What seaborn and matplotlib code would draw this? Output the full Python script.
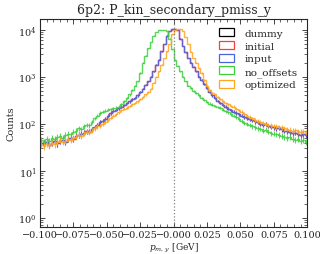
import numpy as np
import pandas as pd
import matplotlib
matplotlib.use('Agg')
import matplotlib.pyplot as plt
from matplotlib.patches import Patch
import seaborn as sns

# histogram settings: 100 bins between -0.1 and 0.1 GeV
x_lo, x_hi, n_bins = -0.1, 0.1, 100

samples = ['dummy', 'initial', 'input', 'no_offsets', 'optimized']
colors = {'dummy': 'black', 'initial': '#ff3b3b', 'input': '#4a64e0',
          'no_offsets': '#3fcf3f', 'optimized': '#ffa51f'}

input_counts = [
    40, 38, 42, 36, 40, 44, 39, 43, 46, 41,
    48, 50, 47, 55, 58, 62, 65, 70, 68, 78,
    85, 95, 108, 115, 125, 150, 170, 190, 200, 215,
    230, 250, 280, 300, 330, 360, 400, 480, 560, 680,
    800, 1000, 1300, 1800, 2300, 3500, 5000, 7500, 9500, 10200,
    10500, 9800, 6500, 4500, 3300, 2500, 2000, 1650, 1300, 1000,
    850, 700, 580, 480, 400, 350, 310, 280, 250, 230,
    210, 195, 180, 170, 160, 150, 140, 132, 125, 118,
    112, 108, 100, 95, 98, 90, 86, 84, 80, 82,
    76, 72, 70, 66, 64, 65, 61, 58, 60, 57]
initial_counts = list(input_counts)

no_offsets_counts = [
    45, 42, 48, 44, 50, 47, 52, 55, 51, 58,
    62, 60, 68, 72, 80, 78, 88, 95, 92, 110,
    130, 150, 170, 180, 190, 200, 205, 215, 220, 230,
    260, 300, 360, 420, 520, 650, 800, 1200, 2000, 2800,
    4000, 5500, 7500, 9000, 9800, 10000, 9900, 9500, 6500, 3800,
    2300, 1700, 1300, 1000, 800, 650, 580, 500, 450, 400,
    350, 320, 290, 270, 255, 240, 228, 220, 200, 185,
    175, 160, 150, 140, 125, 115, 105, 98, 95, 88,
    84, 80, 78, 72, 75, 68, 64, 62, 60, 58,
    55, 53, 50, 52, 48, 46, 47, 44, 45, 42]

optimized_counts = [
    36, 33, 38, 35, 40, 37, 42, 45, 41, 44,
    47, 45, 50, 52, 58, 56, 62, 68, 66, 72,
    80, 88, 90, 98, 108, 120, 135, 150, 160, 175,
    195, 210, 220, 240, 260, 280, 300, 340, 370, 420,
    480, 560, 750, 1000, 1300, 1800, 2500, 3500, 5000, 8000,
    10000, 10500, 10200, 9500, 7000, 5000, 3400, 2500, 2000, 1500,
    1200, 850, 650, 520, 460, 420, 380, 340, 300, 280,
    260, 240, 230, 210, 195, 180, 165, 150, 140, 130,
    122, 115, 108, 104, 100, 96, 92, 90, 88, 86,
    84, 80, 78, 75, 72, 74, 70, 68, 70, 66]

counts = {'initial': initial_counts, 'input': input_counts,
          'no_offsets': no_offsets_counts, 'optimized': optimized_counts}

edges = np.linspace(x_lo, x_hi, n_bins + 1)
centers = 0.5 * (edges[:-1] + edges[1:])

rows = []
for name in ['initial', 'input', 'no_offsets', 'optimized']:
    for c, n in zip(centers, counts[name]):
        rows.append([name, c, n])
df = pd.DataFrame(rows, columns=['sample', 'pmiss', 'counts'])

sns.set_style('ticks')
plt.rcParams['font.family'] = ['DejaVu Serif']
plt.rcParams['mathtext.fontset'] = 'dejavuserif'
plt.rcParams['xtick.direction'] = 'in'
plt.rcParams['ytick.direction'] = 'in'

fig = plt.figure(figsize=(3.2, 2.55), dpi=100)
ax = fig.add_axes([0.125, 0.106, 0.835, 0.816])

for name in ['initial', 'input', 'no_offsets', 'optimized']:
    sub = df[df['sample'] == name]
    sns.histplot(data=sub, x='pmiss', weights='counts', bins=list(edges), element='step',
                 fill=False, color=colors[name], lw=1.0, alpha=0.85, ax=ax)
    ax.errorbar(sub['pmiss'], sub['counts'], yerr=np.sqrt(sub['counts']), fmt='none',
                ecolor=colors[name], elinewidth=0.8, alpha=0.85)

ax.axvline(0, color='gray', ls=':', lw=0.9)
ax.set_yscale('log')
ax.set_xlim(x_lo, x_hi)
ax.set_ylim(0.64, 1.7e4)
ax.set_xticks(np.arange(-0.1, 0.1001, 0.025))
ax.set_xticklabels([f'{v:.3f}'.replace('-', '\u2212') for v in np.arange(-0.1, 0.1001, 0.025)])
ax.xaxis.set_minor_locator(matplotlib.ticker.MultipleLocator(0.005))
ax.tick_params(which='both', top=True, right=True, labelsize=7)
ax.tick_params(which='major', length=3.5, width=0.6, pad=2.5)
ax.tick_params(which='minor', length=2, width=0.5)
for s in ax.spines.values():
    s.set_linewidth(0.8)

ax.set_xlabel(r'$p_{m,\,y}$ [GeV]', fontsize=6.5, labelpad=1)
ax.set_ylabel('Counts', fontsize=7, labelpad=2)
ax.set_title('6p2: P_kin_secondary_pmiss_y', fontsize=9, pad=4)

handles = [Patch(facecolor='none', edgecolor=colors[s], lw=0.9, label=s) for s in samples]
ax.legend(handles=handles, loc='upper right', frameon=False, fontsize=7.5,
          handlelength=1.5, handleheight=0.8, handletextpad=1.0,
          labelspacing=0.3, borderaxespad=0.5)

fig.savefig('out.png', dpi=100)
